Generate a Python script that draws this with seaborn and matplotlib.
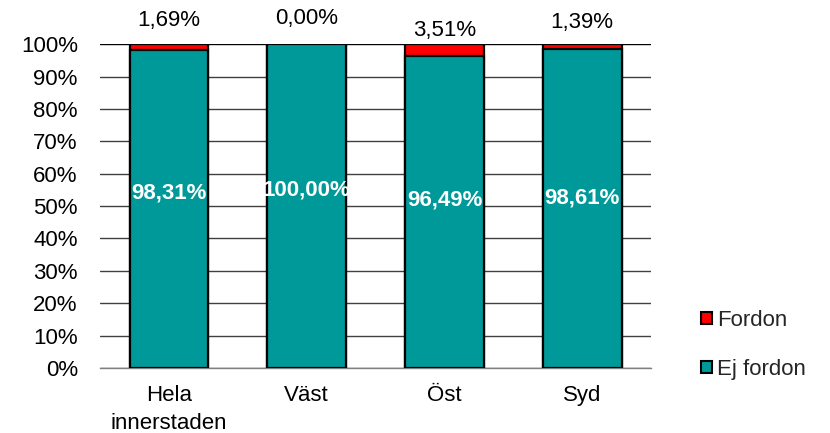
import numpy as np
import pandas as pd
import matplotlib
matplotlib.use('Agg')
import matplotlib.pyplot as plt
from matplotlib.patches import Patch
import seaborn as sns

# Data
omraden = ['Hela\ninnerstaden', 'Väst', 'Öst', 'Syd']
ej_fordon = [98.31, 100.00, 96.49, 98.61]
fordon = [1.69, 0.00, 3.51, 1.39]
yticks = list(range(0, 101, 10))

# label placement (percent units) as in the original
top_label_y = [107.4, 108.0, 104.3, 106.8]
inner_label_y = [54.0, 55.0, 51.9, 52.5]

teal = '#009999'
red = '#ff0000'
fs = 16

sns.set_theme(style='white')
plt.rcParams['font.family'] = ['Liberation Sans', 'DejaVu Sans']

df = pd.DataFrame({'omrade': omraden, 'ej': ej_fordon, 'fordon': fordon})
df['total'] = df['ej'] + df['fordon']

fig = plt.figure(figsize=(8.3, 4.33), dpi=100)
ax = fig.add_axes([0.1205, 0.150, 0.664, 0.748])

# grid first so bars sit on top
for y in yticks:
    ax.axhline(y, color='#404040' if y < 100 else 'black', lw=1.0, zorder=0)

# stacked: total in red, then ej fordon in teal on top
sns.barplot(data=df, x='omrade', y='total', color=red, width=0.57,
            edgecolor='black', linewidth=1.6, saturation=1, ax=ax, zorder=2)
sns.barplot(data=df, x='omrade', y='ej', color=teal, width=0.57,
            edgecolor='black', linewidth=1.6, saturation=1, ax=ax, zorder=3)

for i in range(len(omraden)):
    ax.text(i, top_label_y[i], f"{fordon[i]:.2f}%".replace('.', ','),
            ha='center', va='center', fontsize=fs, color='black')
    ax.text(i, inner_label_y[i], f"{ej_fordon[i]:.2f}%".replace('.', ','),
            ha='center', va='center', fontsize=fs, color='white',
            fontweight='bold', zorder=5)

ax.set_xlim(-0.5, len(omraden) - 0.5)
ax.set_ylim(0, 100)
ax.set_yticks(yticks)
ax.set_yticklabels([f"{v}%" for v in yticks], fontsize=fs, color='black')
ax.tick_params(axis='y', length=0, pad=16)
ax.set_xticks(range(len(omraden)))
ax.set_xticklabels(omraden, fontsize=fs, linespacing=1.45, color='black')
ax.tick_params(axis='x', which='major', length=0, pad=12)
ax.set_xticks(np.arange(-0.5, len(omraden)), minor=True)
ax.tick_params(axis='x', which='minor', length=6, color='#808080', width=1, direction='out')
ax.set_xlabel('')
ax.set_ylabel('')

for side in ['top', 'right', 'left']:
    ax.spines[side].set_visible(False)
ax.spines['bottom'].set_color('#808080')
ax.spines['bottom'].set_linewidth(1)

handles = [Patch(facecolor=red, edgecolor='black', linewidth=1.5, label='Fordon'),
           Patch(facecolor=teal, edgecolor='black', linewidth=1.5, label='Ej fordon')]
fig.legend(handles=handles, loc='center left', bbox_to_anchor=(0.845, 0.2035),
           frameon=False, fontsize=fs, handlelength=0.5, handleheight=0.5,
           handletextpad=0.2, labelspacing=1.25, borderpad=0, borderaxespad=0)

fig.savefig('out.png', dpi=100)
